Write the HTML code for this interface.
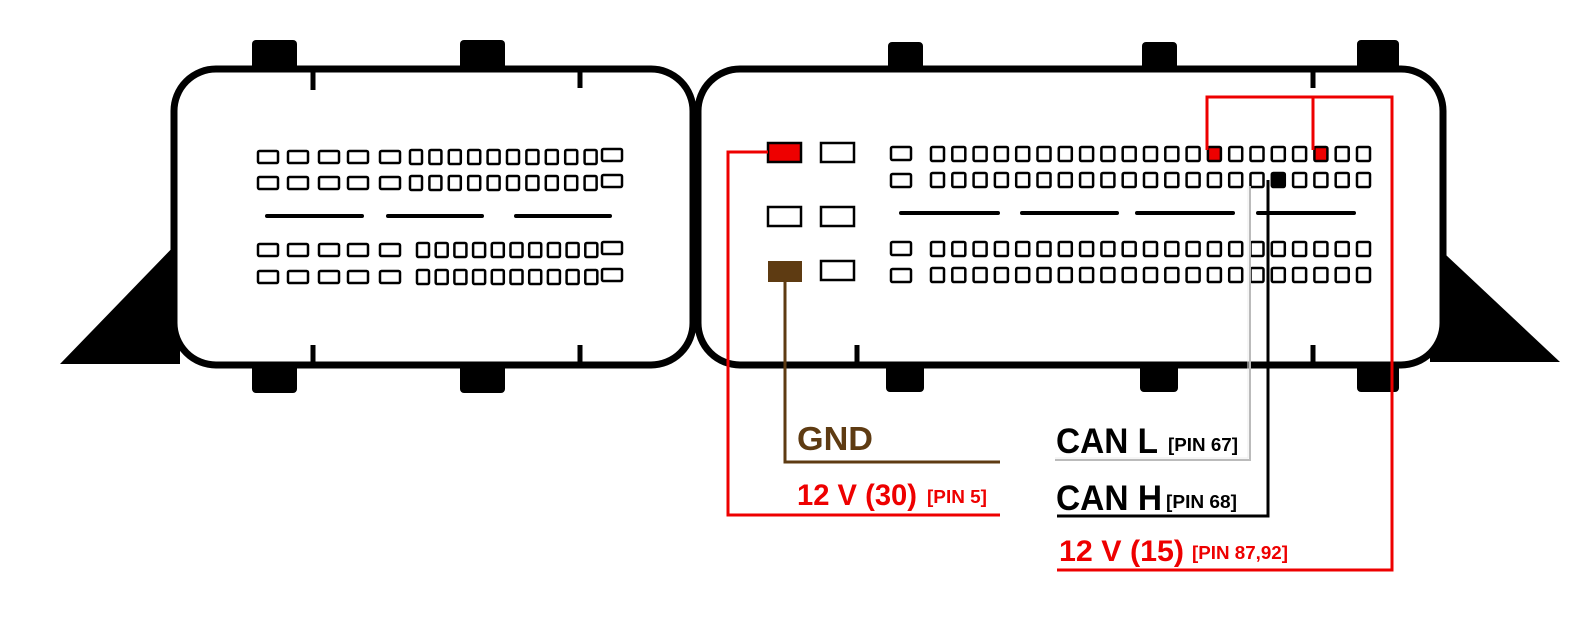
<!DOCTYPE html>
<html><head><meta charset="utf-8"><style>
html,body{margin:0;padding:0;background:#fff;}
svg{display:block;}
text{font-family:"Liberation Sans Narrow","Liberation Sans",sans-serif;font-weight:bold;}
</style></head><body>
<svg id="s" width="1586" height="627" viewBox="0 0 1586 627" xmlns="http://www.w3.org/2000/svg">
<polygon points="60,364 180,240 180,364" fill="#000"/>
<polygon points="1430,240 1560,362 1430,362" fill="#000"/>
<g fill="#000">
<rect x="252" y="40" width="45" height="32" rx="4"/><rect x="460" y="40" width="45" height="32" rx="4"/>
<rect x="252" y="362" width="45" height="31" rx="4"/><rect x="460" y="362" width="45" height="31" rx="4"/>
<rect x="888" y="42" width="35" height="30" rx="4"/><rect x="1142" y="42" width="35" height="30" rx="4"/><rect x="1357" y="40" width="42" height="32" rx="4"/>
<rect x="886" y="362" width="38" height="30" rx="4"/><rect x="1140" y="362" width="38" height="30" rx="4"/><rect x="1357" y="362" width="42" height="30" rx="4"/>
</g>
<rect x="174" y="69" width="519" height="296" rx="42" fill="#fff" stroke="#000" stroke-width="7"/>
<rect x="698" y="69" width="745" height="296" rx="42" fill="#fff" stroke="#000" stroke-width="7"/>
<g stroke="#000" stroke-width="5">
<line x1="313" y1="72" x2="313" y2="90"/><line x1="580" y1="72" x2="580" y2="88"/>
<line x1="313" y1="345" x2="313" y2="362"/><line x1="580" y1="345" x2="580" y2="362"/>
<line x1="1313" y1="72" x2="1313" y2="88"/>
<line x1="857" y1="345" x2="857" y2="362"/><line x1="1313" y1="345" x2="1313" y2="362"/>
</g>
<g id="pins" fill="#fff" stroke="#000" stroke-width="2.5"></g>
<g stroke="#000" stroke-width="4" stroke-linecap="round">
<line x1="267" y1="216" x2="362" y2="216"/><line x1="388" y1="216" x2="482" y2="216"/><line x1="516" y1="216" x2="610" y2="216"/>
<line x1="901" y1="213" x2="998" y2="213"/><line x1="1022" y1="213" x2="1117" y2="213"/><line x1="1137" y1="213" x2="1233" y2="213"/><line x1="1258" y1="213" x2="1354" y2="213"/>
</g>
<rect x="768" y="143" width="33" height="19" fill="#e00" stroke="#000" stroke-width="2.5"/>
<rect x="821" y="143" width="33" height="19" fill="#fff" stroke="#000" stroke-width="2.5"/>
<rect x="768" y="207" width="33" height="19" fill="#fff" stroke="#000" stroke-width="2.5"/>
<rect x="821" y="207" width="33" height="19" fill="#fff" stroke="#000" stroke-width="2.5"/>
<rect x="768" y="261" width="34" height="21" fill="#5e3b12"/>
<rect x="821" y="261" width="33" height="19" fill="#fff" stroke="#000" stroke-width="2.5"/>
<polyline points="768,152 728,152 728,515 1000,515" fill="none" stroke="#e00" stroke-width="3"/>
<polyline points="785,282 785,462 1000,462" fill="none" stroke="#5e3b12" stroke-width="3"/>
<polyline points="1250,186 1250,460 1055,460" fill="none" stroke="#bbb" stroke-width="2"/>
<polyline points="1248,186 1248,458 1055,458" fill="none" stroke="#eee" stroke-width="1"/>
<polyline points="1268,180 1268,516 1057,516" fill="none" stroke="#000" stroke-width="3"/>
<polyline points="1207,150 1207,97 1392,97 1392,570 1057,570" fill="none" stroke="#e00" stroke-width="3"/>
<line x1="1313" y1="97" x2="1313" y2="150" stroke="#e00" stroke-width="3"/>
<text x="797" y="450" font-size="33" fill="#5e3b12" textLength="76" lengthAdjust="spacingAndGlyphs">GND</text>
<text x="797" y="505" font-size="30" fill="#e00" textLength="120" lengthAdjust="spacingAndGlyphs">12 V (30)</text>
<text x="927" y="503" font-size="18" fill="#e00" textLength="60" lengthAdjust="spacingAndGlyphs">[PIN 5]</text>
<text x="1056" y="453" font-size="35" fill="#000" textLength="102" lengthAdjust="spacingAndGlyphs">CAN L</text>
<text x="1168" y="451" font-size="18" fill="#000" textLength="70" lengthAdjust="spacingAndGlyphs">[PIN 67]</text>
<text x="1056" y="510" font-size="35" fill="#000" textLength="106" lengthAdjust="spacingAndGlyphs">CAN H</text>
<text x="1166" y="508" font-size="18" fill="#000" textLength="71" lengthAdjust="spacingAndGlyphs">[PIN 68]</text>
<text x="1059" y="561" font-size="30" fill="#e00" textLength="125" lengthAdjust="spacingAndGlyphs">12 V (15)</text>
<text x="1192" y="559" font-size="18" fill="#e00" textLength="96" lengthAdjust="spacingAndGlyphs">[PIN 87,92]</text>
</svg>
<script>
var g=document.getElementById('pins'),ns="http://www.w3.org/2000/svg";
function r(x,y,w,h,f){var e=document.createElementNS(ns,'rect');e.setAttribute('x',x);e.setAttribute('y',y);e.setAttribute('width',w);e.setAttribute('height',h);e.setAttribute('rx',1.5);if(f){e.setAttribute('fill',f);}g.appendChild(e);}
var wx=[258,288,319,348,380];
[151,177,244,271].forEach(function(y,ri){
 for(var i=0;i<5;i++) r(wx[i],y,20,12);
 var sx = ri<2?410:417, st = ri<2?19.4:18.7;
 for(var i=0;i<10;i++) r(sx+i*st,y-1,12,14);
 r(602,y-2,20,12);
});
[147,173,242,268].forEach(function(y,ri){
 r(891,y+(ri%2?1:0),20,13);
 for(var i=0;i<21;i++){
  var f=null;
  if(ri==0&&(i==13||i==18)) f='#e00';
  if(ri==1&&i==16) f='#000';
  r(931+i*21.3,y,13,14,f);
 }
});
</script>
</body></html>
